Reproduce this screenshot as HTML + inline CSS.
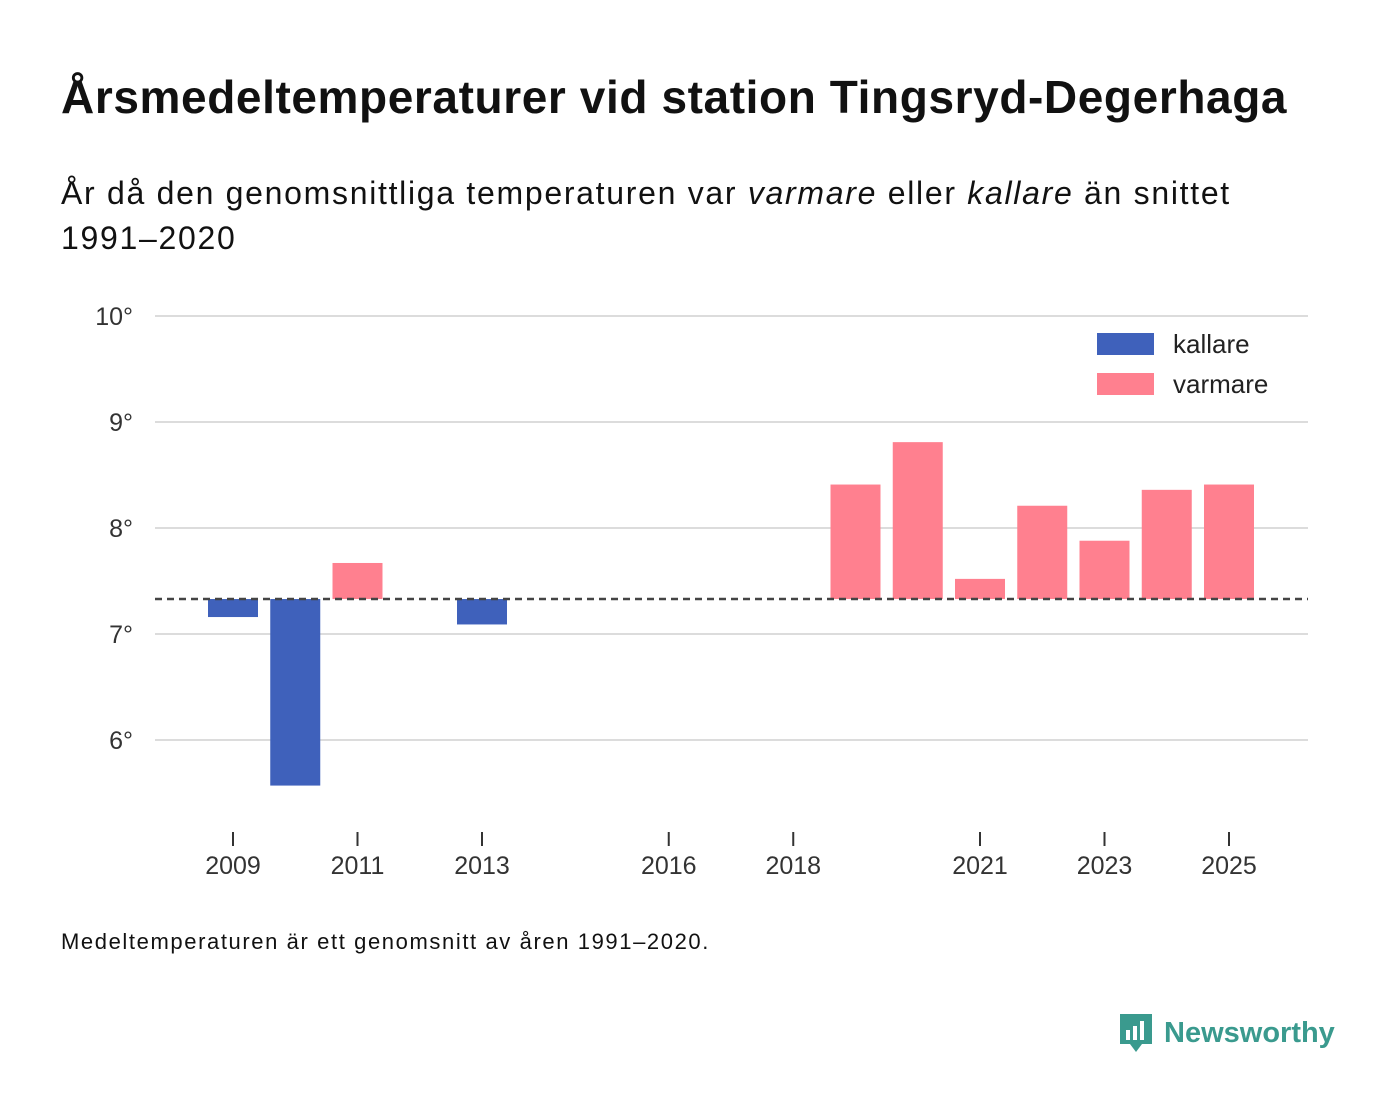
<!DOCTYPE html>
<html><head><meta charset="utf-8">
<style>
html,body{margin:0;padding:0;background:#fff;}
body{width:1400px;height:1116px;position:relative;font-family:"Liberation Sans",sans-serif;color:#111;overflow:hidden;}
#title{position:absolute;left:61px;top:70px;font-size:46px;font-weight:bold;margin:0;letter-spacing:0.6px;white-space:nowrap;}
#subtitle{position:absolute;left:61px;top:171px;font-size:32px;line-height:45px;width:1300px;letter-spacing:1.7px;}
#note{position:absolute;left:61px;top:929px;font-size:22px;letter-spacing:1.6px;}
#logo{position:absolute;left:1118px;top:1012px;display:flex;align-items:center;gap:10px;color:#3a9a8e;font-size:29px;font-weight:bold;}
svg text{font-family:"Liberation Sans",sans-serif;}
</style></head><body>
<h1 id="title">Årsmedeltemperaturer vid station Tingsryd-Degerhaga</h1>
<div id="subtitle">År då den genomsnittliga temperaturen var <i>varmare</i> eller <i>kallare</i> än snittet<br>1991–2020</div>
<svg id="chart" width="1400" height="1116" style="position:absolute;left:0;top:0"></svg>
<div id="note">Medeltemperaturen är ett genomsnitt av åren 1991–2020.</div>
<div id="logo">
<svg width="36" height="42" viewBox="0 0 36 42"><path d="M2 2h32v30H24l-6 8-6-8H2z" fill="#3a9a8e"/><rect x="8" y="18" width="4" height="10" fill="#fff"/><rect x="15" y="14" width="4" height="14" fill="#fff"/><rect x="22" y="9" width="4" height="19" fill="#fff"/></svg>
<span>Newsworthy</span></div>
<script>
const years=[2009,2010,2011,2013,2019,2020,2021,2022,2023,2024,2025];
const temps=[7.16,5.57,7.67,7.09,8.41,8.81,7.52,8.21,7.88,8.36,8.41];
const baseline=7.33;
const yTicks=[6,7,8,9,10];
const xTicks=[2009,2011,2013,2016,2018,2021,2023,2025];
const legendLabels=["kallare","varmare"];
const NS="http://www.w3.org/2000/svg";
const svg=document.getElementById('chart');
const x=v=>233+(v-2009)*62.25;
const y=v=>634-(v-7)*106;
function mk(t,a){const e=document.createElementNS(NS,t);for(const k in a)e.setAttribute(k,a[k]);svg.appendChild(e);return e;}
yTicks.forEach(t=>{
  const l=mk('line',{x1:155,x2:1308,y1:y(t),y2:y(t),stroke:'#dcdcdc','stroke-width':2});
  
  
  const tx=mk('text',{x:133,y:y(t)+9,'text-anchor':'end','font-size':25,fill:'#333'});
  tx.textContent=t+'°';
  
  
});
xTicks.forEach(t=>{
  const l=mk('line',{x1:x(t),x2:x(t),y1:832,y2:846,stroke:'#333','stroke-width':2});
  
  
  const tx=mk('text',{x:x(t),y:874,'text-anchor':'middle','font-size':25,fill:'#333'});
  tx.textContent=t;
  
  
});
years.forEach((yr,i)=>{
  const v=temps[i];
  const top=Math.min(y(v),y(baseline)),h=Math.abs(y(v)-y(baseline));
  const r=mk('rect',{x:x(yr)-25,y:top,width:50,height:h,fill:v<baseline?'#3f61bb':'#ff808f'});
  
  
});
const bl=mk('line',{x1:155,x2:1308,y1:y(baseline),y2:y(baseline),stroke:'#444','stroke-width':2.5,'stroke-dasharray':'7,5'});


const colors=['#3f61bb','#ff808f'];
legendLabels.forEach((lab,i)=>{
  const r=mk('rect',{x:1097,y:333+i*40,width:57,height:22,fill:colors[i]});
  
  
  const t=mk('text',{x:1173,y:353+i*40,'font-size':26,fill:'#222'});
  t.textContent=lab;
  
  
});
</script>
</body></html>
